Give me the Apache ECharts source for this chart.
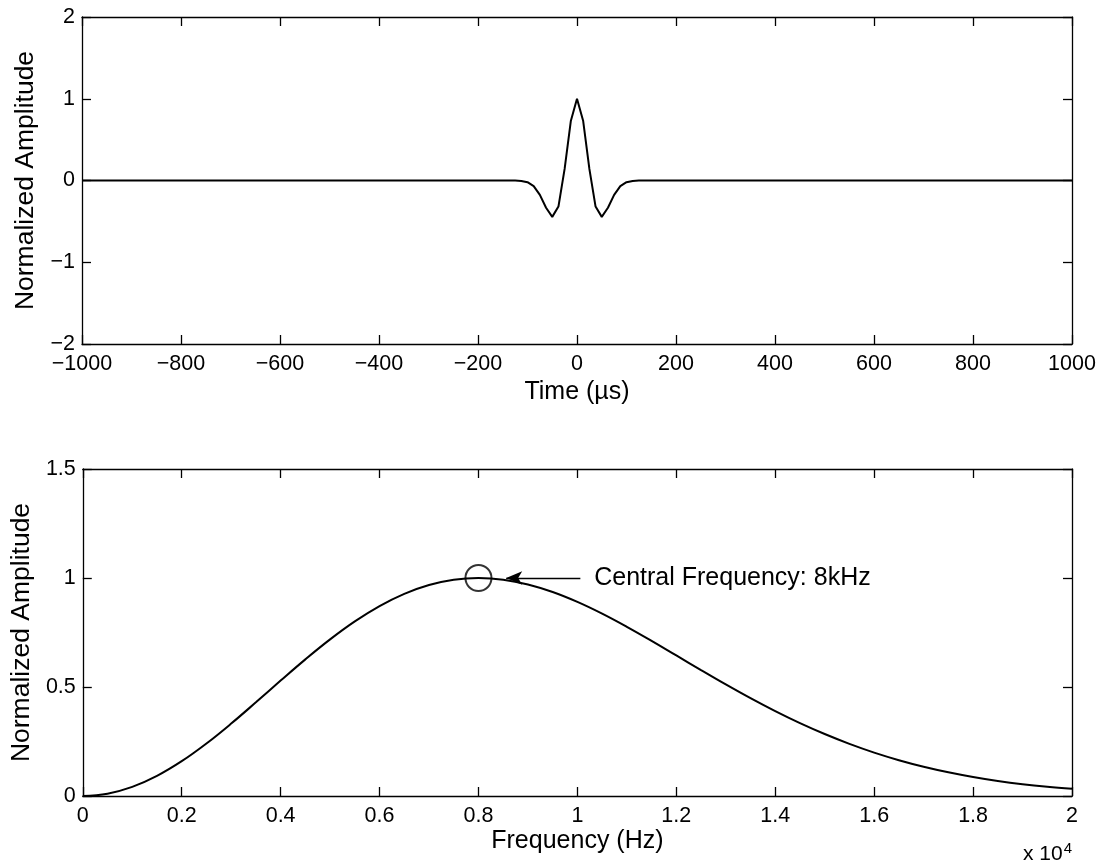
<!DOCTYPE html>
<html><head><meta charset="utf-8">
<script src="https://cdn.jsdelivr.net/npm/echarts@6/dist/echarts.min.js"></script>
<style>html,body{margin:0;padding:0;background:#fff}#c{width:1103px;height:865px}</style>
</head><body><div id="c"></div>
<script>
// Top panel: time-domain pulse (µs, normalized amplitude)
const timeUs = [-1000, -150, -137.5, -125, -112.5, -100, -87.5, -75, -62.5, -50, -37.5, -25, -12.5, 0,
                12.5, 25, 37.5, 50, 62.5, 75, 87.5, 100, 112.5, 125, 137.5, 150, 1000];
const timeAmp = [0, 0, 0, -0.001, -0.005, -0.021, -0.069, -0.175, -0.334, -0.445, -0.319, 0.142, 0.727, 1,
                 0.727, 0.142, -0.319, -0.445, -0.334, -0.175, -0.069, -0.021, -0.005, -0.001, 0, 0, 0];
// Bottom panel: spectrum (Hz, normalized amplitude)
const freqHz = [0, 500, 1000, 1500, 2000, 2500, 3000, 3500, 4000, 4500, 5000, 5500, 6000, 6500, 7000, 7500,
                8000, 8500, 9000, 9500, 10000, 10500, 11000, 11500, 12000, 12500, 13000, 13500, 14000, 14500,
                15000, 15500, 16000, 16500, 17000, 17500, 18000, 18500, 19000, 19500, 20000];
const freqAmp = [0, 0.0106, 0.0418, 0.0923, 0.1596, 0.2408, 0.3321, 0.4297, 0.5293, 0.6268, 0.7184, 0.8009,
                 0.8712, 0.9273, 0.9678, 0.9920, 1, 0.9924, 0.9703, 0.9357, 0.8903, 0.8364, 0.7760, 0.7115,
                 0.6446, 0.5777, 0.5119, 0.4488, 0.3893, 0.3342, 0.2842, 0.2391, 0.1991, 0.1643, 0.1342,
                 0.1087, 0.0871, 0.0692, 0.0544, 0.0425, 0.0328];
const centralFreqHz = [8000];
const centralAmp = [1];
const annotationText = 'Central Frequency: 8kHz';

const FONT = 'Liberation Sans, Arial, Helvetica, sans-serif';
const minus = v => String(v).replace('-', '\u2212');
const axLine = {show: true, onZero: false, lineStyle: {color: '#000', width: 1.3}};
const axTick = {show: true, inside: true, length: 9, lineStyle: {color: '#000', width: 1.3}};
const lbl = {color: '#000', fontSize: 21.5, fontFamily: FONT};
const nameStyle = {color: '#000', fontSize: 25, fontFamily: FONT};

function xAx(grid, pos, min, max, interval, name, fmt, gap) {
  const a = {gridIndex: grid, type: 'value', position: pos, min, max, interval,
    axisLine: axLine, axisTick: axTick, splitLine: {show: false}};
  if (pos === 'bottom') {
    a.axisLabel = Object.assign({margin: 9, formatter: fmt, showMinLabel: true, showMaxLabel: true}, lbl);
    a.name = name; a.nameLocation = 'middle'; a.nameGap = gap; a.nameTextStyle = nameStyle;
  } else a.axisLabel = {show: false};
  return a;
}
function yAx(grid, pos, min, max, interval, name, fmt) {
  const a = {gridIndex: grid, type: 'value', position: pos, min, max, interval,
    axisLine: axLine, axisTick: axTick, splitLine: {show: false}};
  if (pos === 'left') {
    a.axisLabel = Object.assign({margin: 7, formatter: fmt, showMinLabel: true, showMaxLabel: true}, lbl);
    a.name = name; a.nameLocation = 'middle'; a.nameGap = 43;
    a.nameTextStyle = Object.assign({}, nameStyle, {fontSize: 26.5});
  } else a.axisLabel = {show: false};
  return a;
}

const chart = echarts.init(document.getElementById('c'), null, {renderer: 'canvas'});
chart.setOption({
  animation: false,
  backgroundColor: '#fff',
  textStyle: {fontFamily: FONT},
  grid: [
    {left: 82, top: 17, width: 990, height: 327},
    {left: 82, top: 469, width: 990, height: 327}
  ],
  xAxis: [
    xAx(0, 'bottom', -1000, 1000, 200, 'Time (\u00b5s)', minus, 36),
    xAx(0, 'top', -1000, 1000, 200),
    xAx(1, 'bottom', 0, 20000, 2000, 'Frequency (Hz)', v => String(+(v / 10000).toFixed(1)), 33),
    xAx(1, 'top', 0, 20000, 2000)
  ],
  yAxis: [
    yAx(0, 'left', -2, 2, 1, 'Normalized Amplitude', minus),
    yAx(0, 'right', -2, 2, 1),
    yAx(1, 'left', 0, 1.5, 0.5, 'Normalized Amplitude', v => String(v)),
    yAx(1, 'right', 0, 1.5, 0.5)
  ],
  graphic: [{
    type: 'text', left: 1023, top: 841,
    style: {text: 'x 10{s|4}', fill: '#000', font: '21px ' + FONT,
      rich: {s: {fontSize: 15, fontFamily: FONT, verticalAlign: 'top', padding: [0, 0, 12, 1]}}}
  }],
  series: [
    {type: 'line', xAxisIndex: 0, yAxisIndex: 0, showSymbol: false, silent: true,
     data: timeUs.map((t, i) => [t, timeAmp[i]]),
     lineStyle: {color: '#000', width: 2}},
    {type: 'line', xAxisIndex: 2, yAxisIndex: 2, showSymbol: false, silent: true, smooth: 0.4,
     data: freqHz.map((f, i) => [f, freqAmp[i]]),
     lineStyle: {color: '#000', width: 2}},
    {type: 'scatter', xAxisIndex: 2, yAxisIndex: 2, silent: true, z: 5,
     data: centralFreqHz.map((f, i) => [f, centralAmp[i]]),
     symbol: 'circle', symbolSize: 26,
     itemStyle: {color: 'rgba(0,0,0,0)', borderColor: '#000', borderWidth: 2},
     markLine: {silent: true, symbol: ['none', 'arrow'], symbolSize: [10, 16],
       lineStyle: {color: '#000', width: 1.3, type: 'solid'}, label: {show: false},
       data: [[{coord: [10060, 1]}, {coord: [8560, 1]}]]},
     markPoint: {silent: true, symbol: 'circle', symbolSize: 1,
       itemStyle: {color: 'rgba(0,0,0,0)'},
       data: [{coord: [10330, 1],
         label: {show: true, position: 'right', distance: 0, formatter: annotationText,
           color: '#000', fontSize: 25, fontFamily: FONT}}]}
    }
  ]
});
</script></body></html>
